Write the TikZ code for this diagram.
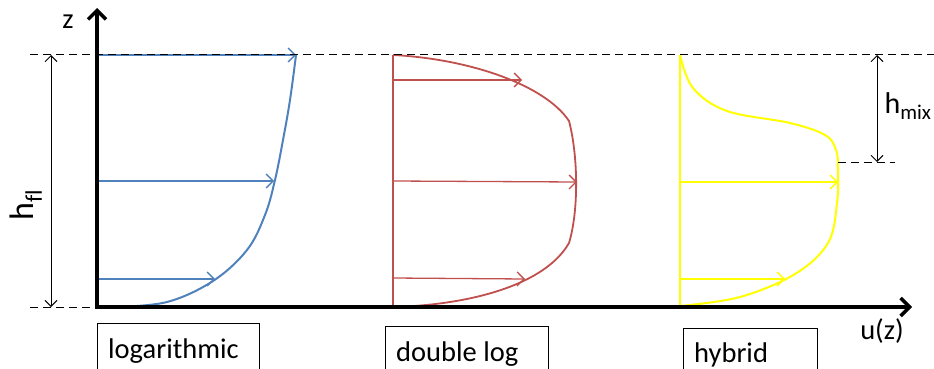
\documentclass[tikz,border=0pt]{standalone}
\usepackage{fontspec}
\setmainfont{Carlito}[Ligatures=NoCommon]
\usetikzlibrary{arrows.meta}
\definecolor{cblue}{HTML}{4F81BD}
\definecolor{cred}{HTML}{C0504D}
\definecolor{cyel}{HTML}{FFFF00}
\tikzset{
  axis/.style={line width=3.5pt, -{Straight Barb[length=9pt,width=18pt,line width=3.5pt]}},
  guide/.style={line width=1pt, dash pattern=on 8pt off 5pt},
  dim/.style={line width=1pt, {Straight Barb[length=6pt,width=12pt]}-{Straight Barb[length=6pt,width=12pt]}},
  vel/.style={line width=1.3pt, -{Straight Barb[length=7pt,width=14pt]}},
  prof/.style={line width=2pt},
  lbl/.style={font=\fontsize{28.5}{32}\selectfont, inner sep=0pt},
  box/.style={line width=1pt}
}
\begin{document}
\begin{tikzpicture}[x=1pt,y=-1pt]
\useasboundingbox (0,0) rectangle (934,369);
% named points
\coordinate (O) at (97,307);
\coordinate (ztop) at (97,8);
\coordinate (xend) at (912,307);
\coordinate (topL) at (30,55);
\coordinate (topR) at (934,55);
\coordinate (botL) at (30,307);
\coordinate (hflT) at (51,55);
\coordinate (hflB) at (51,307);
% blue profile
\coordinate (b1) at (97,279); \coordinate (b1e) at (215,279);
\coordinate (b2) at (97,181); \coordinate (b2e) at (274,181);
\coordinate (b3) at (97,55);  \coordinate (b3e) at (296,55);
\draw[vel,cblue] (b1) -- (b1e);
\draw[vel,cblue] (b2) -- (b2e);
\draw[vel,cblue] (b3) -- (b3e);
\draw[prof,cblue] plot[smooth,tension=0.6] coordinates {(115,307) (167,302) (213,281) (247,250) (265,215) (275,180) (283,140) (290,100) (296,55)};
% red profile
\coordinate (rt) at (393,55); \coordinate (rb) at (393,307);
\coordinate (rc1) at (569,121); \coordinate (rc2) at (569,243);
\draw[prof,cred,line width=1.8pt] (rt) -- (rb);
\draw[prof,cred,line width=1.8pt] (rt) .. controls (470,59) and (545,85) .. (rc1)
  .. controls (578,155) and (579,210) .. (rc2)
  .. controls (545,285) and (470,305) .. (rb);
\coordinate (r1) at (393,80);  \coordinate (r1e) at (522,80);
\coordinate (r2) at (393,181); \coordinate (r2e) at (577,182);
\coordinate (r3) at (393,278); \coordinate (r3e) at (525,279);
\draw[vel,cred] (r1) -- (r1e);
\draw[vel,cred] (r2) -- (r2e);
\draw[vel,cred] (r3) -- (r3e);
% yellow profile
\coordinate (yt) at (680,55); \coordinate (yb) at (680,307);
\draw[prof,cyel,line width=1.8pt] (yt) -- (yb);
\draw[prof,cyel] plot[smooth,tension=0.6] coordinates {(680,55) (693,88) (727,111) (790,123) (825,135) (836,150) (838,170) (837,203) (828,243) (795,274) (740,297) (680,306)};
\coordinate (y1) at (680,182); \coordinate (y1e) at (838,182);
\coordinate (y2) at (680,279); \coordinate (y2e) at (785,279);
\draw[vel,cyel] (y1) -- (y1e);
\draw[vel,cyel] (y2) -- (y2e);
% guides
\draw[guide] (topL) -- (topR);
\draw[guide] (botL) -- (O);
\coordinate (mixL) at (838,162); \coordinate (mixR) at (895,162);
\draw[guide] (mixL) -- (mixR);
% axes
\draw[axis] (O) -- (ztop);
\draw[axis] ([xshift=-1.75pt]O) -- (xend);
% dimension arrows
\draw[dim] (hflT) -- (hflB);
\coordinate (mixT) at (877,55); \coordinate (mixB) at (877,162);
\draw[dim] (mixT) -- (mixB);
% labels
\node[lbl] (zlab) at (68,22) {z};
\node[lbl] (ulab) at (882,331) {u(z)};
\node[lbl,rotate=90,font=\fontsize{34}{38}\selectfont] (hfl) at (26,205) {h\textsubscript{fl}};
\node[lbl,font=\fontsize{30}{34}\selectfont] (hmix) at (908,106) {h\textsubscript{mix}};
% boxes
\draw[box] (97,369) |- (259,323) -- (259,369);
\node[lbl,anchor=base west] (t1) at (108,358) {logarithmic};
\draw[box] (385,369) |- (548,326) -- (548,369);
\node[lbl,anchor=base west] (t2) at (396,361) {double log};
\draw[box] (683,369) |- (817,328) -- (817,369);
\node[lbl,anchor=base west] (t3) at (694,362) {hybrid};
\end{tikzpicture}
\end{document}
